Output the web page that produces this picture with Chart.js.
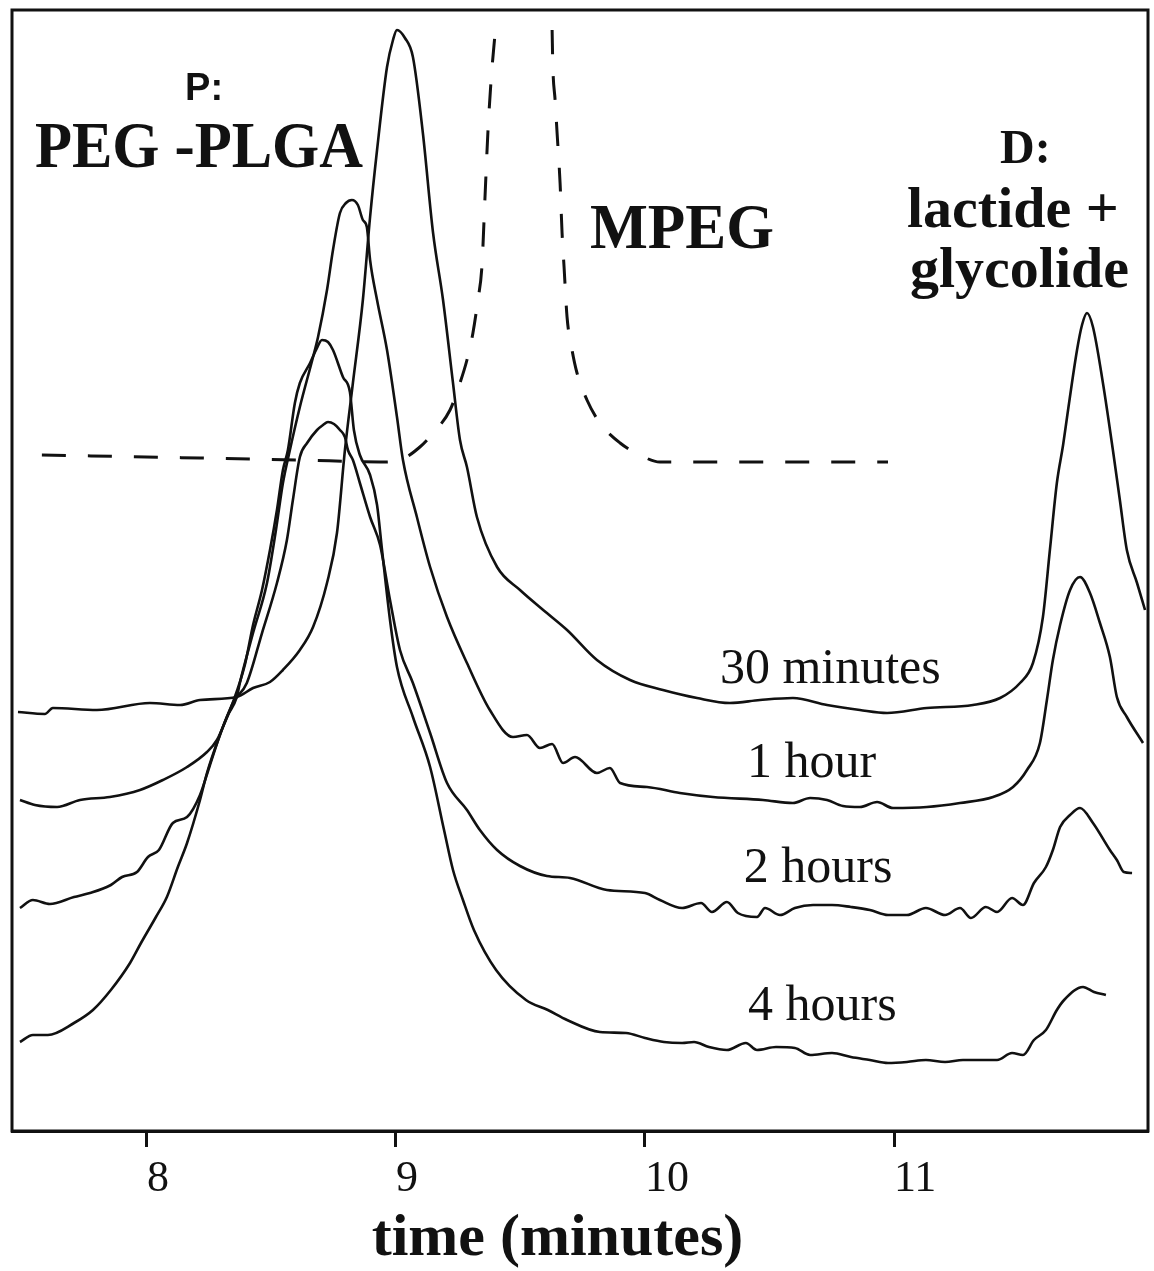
<!DOCTYPE html>
<html>
<head>
<meta charset="utf-8">
<script src="https://cdn.jsdelivr.net/npm/chart.js@4.4.1/dist/chart.umd.min.js"></script>
<style>
  html, body { margin: 0; padding: 0; background: #ffffff; overflow: hidden; }
  #wrap { width: 1154px; height: 1271px; }
</style>
</head>
<body>
<div id="wrap"><canvas id="c" width="1154" height="1271"></canvas></div>
<script>
// ---- x-axis tick values (minutes) ----
const xTickValues = [8, 9, 10, 11];

// ---- 30 minutes ----
const t30 = [7.482, 7.590, 7.622, 7.799, 8.012, 8.133, 8.213, 8.361, 8.426, 8.494, 8.546, 8.614, 8.667, 8.723, 8.763, 8.795, 8.827, 8.867, 8.896, 8.924, 8.964, 8.988, 9.004, 9.036, 9.068, 9.108, 9.149, 9.189, 9.229, 9.257, 9.285, 9.325, 9.406, 9.498, 9.606, 9.687, 9.807, 9.940, 10.072, 10.209, 10.341, 10.462, 10.594, 10.731, 10.863, 10.972, 11.132, 11.317, 11.426, 11.506, 11.558, 11.598, 11.626, 11.654, 11.679, 11.695, 11.735, 11.755, 11.775, 11.799, 11.839, 11.879, 11.907, 11.935, 11.976, 12.008];
const s30 = [41.9, 41.7, 42.3, 42.1, 42.8, 42.6, 43.1, 43.4, 44.3, 44.9, 46.1, 48.1, 50.4, 54.8, 59.8, 68.1, 74.8, 83.1, 91.4, 98.1, 106.4, 109.1, 110.1, 109.3, 107.4, 99.8, 89.8, 83.1, 74.8, 69.1, 66.4, 61.4, 56.4, 54.1, 51.8, 50.1, 47.1, 45.1, 44.1, 43.3, 42.8, 43.1, 43.3, 42.6, 42.1, 41.8, 42.3, 42.6, 43.3, 44.8, 46.8, 51.4, 58.1, 64.8, 68.6, 71.4, 78.1, 80.6, 81.8, 80.4, 74.8, 68.1, 63.1, 58.1, 54.8, 52.1];

// ---- 1 hour ----
const t1h = [7.490, 7.550, 7.639, 7.731, 7.851, 7.972, 8.064, 8.161, 8.241, 8.281, 8.325, 8.361, 8.373, 8.426, 8.482, 8.518, 8.546, 8.574, 8.614, 8.667, 8.687, 8.723, 8.747, 8.775, 8.799, 8.823, 8.847, 8.867, 8.883, 8.896, 8.924, 8.964, 9.004, 9.028, 9.084, 9.137, 9.205, 9.285, 9.377, 9.470, 9.526, 9.578, 9.627, 9.671, 9.719, 9.807, 9.859, 9.900, 10.008, 10.140, 10.273, 10.474, 10.594, 10.663, 10.731, 10.795, 10.863, 10.932, 10.996, 11.132, 11.265, 11.398, 11.478, 11.534, 11.586, 11.614, 11.638, 11.667, 11.707, 11.747, 11.787, 11.827, 11.867, 11.895, 11.935, 12.000];
const s1h = [33.1, 32.6, 32.4, 33.1, 33.4, 34.1, 35.1, 36.4, 37.9, 39.1, 41.6, 43.4, 44.8, 49.8, 54.8, 60.1, 64.8, 68.1, 72.4, 77.4, 79.4, 84.1, 88.1, 91.8, 92.8, 93.1, 92.6, 91.1, 90.4, 87.1, 83.1, 78.1, 71.4, 67.1, 61.4, 56.4, 51.4, 46.8, 42.1, 39.4, 39.6, 38.3, 38.7, 36.8, 37.4, 35.8, 36.3, 34.8, 34.4, 33.8, 33.4, 33.1, 32.8, 33.3, 33.1, 32.5, 32.4, 32.9, 32.3, 32.4, 32.8, 33.4, 34.4, 36.1, 38.8, 43.1, 47.1, 50.6, 54.1, 55.4, 53.8, 50.8, 47.4, 43.4, 41.4, 38.8];

// ---- 2 hours ----
const t2h = [7.490, 7.542, 7.610, 7.707, 7.771, 7.855, 7.900, 7.960, 8.004, 8.048, 8.104, 8.161, 8.213, 8.253, 8.293, 8.345, 8.401, 8.462, 8.522, 8.562, 8.586, 8.614, 8.643, 8.683, 8.707, 8.727, 8.751, 8.775, 8.795, 8.807, 8.827, 8.855, 8.896, 8.936, 8.976, 9.016, 9.068, 9.137, 9.205, 9.285, 9.337, 9.406, 9.498, 9.606, 9.699, 9.847, 10.000, 10.060, 10.149, 10.225, 10.269, 10.329, 10.373, 10.450, 10.482, 10.542, 10.602, 10.675, 10.751, 10.827, 10.903, 10.976, 11.052, 11.128, 11.205, 11.265, 11.309, 11.369, 11.414, 11.474, 11.518, 11.562, 11.610, 11.638, 11.667, 11.707, 11.747, 11.799, 11.867, 11.895, 11.923, 11.956];
const s2h = [22.3, 23.1, 22.7, 23.4, 23.8, 24.6, 25.4, 25.9, 27.4, 28.1, 30.8, 31.4, 33.6, 36.6, 39.6, 42.8, 44.8, 49.8, 54.8, 59.1, 63.1, 67.4, 68.8, 70.1, 70.6, 70.9, 70.7, 70.1, 69.4, 68.1, 67.1, 64.8, 61.4, 58.6, 53.1, 48.1, 44.8, 39.8, 34.8, 32.1, 30.1, 28.1, 26.5, 25.5, 25.3, 24.1, 23.8, 23.1, 22.3, 22.8, 21.9, 22.9, 21.8, 21.4, 22.3, 21.6, 22.3, 22.6, 22.6, 22.4, 22.1, 21.6, 21.6, 22.3, 21.6, 22.3, 21.3, 22.4, 21.9, 23.3, 22.6, 24.8, 26.4, 28.1, 30.4, 31.6, 32.3, 30.8, 28.1, 27.1, 25.9, 25.8];

// ---- 4 hours ----
const t4h = [7.490, 7.542, 7.602, 7.707, 7.783, 7.855, 7.932, 7.976, 8.036, 8.080, 8.124, 8.161, 8.213, 8.241, 8.293, 8.341, 8.393, 8.426, 8.462, 8.494, 8.522, 8.546, 8.566, 8.594, 8.614, 8.655, 8.679, 8.703, 8.727, 8.747, 8.787, 8.815, 8.831, 8.855, 8.896, 8.924, 8.944, 8.976, 9.004, 9.068, 9.137, 9.193, 9.229, 9.269, 9.313, 9.402, 9.522, 9.610, 9.687, 9.819, 9.924, 10.000, 10.076, 10.149, 10.197, 10.257, 10.329, 10.405, 10.450, 10.526, 10.602, 10.663, 10.751, 10.827, 10.903, 10.976, 11.052, 11.128, 11.205, 11.277, 11.353, 11.414, 11.474, 11.518, 11.562, 11.610, 11.654, 11.683, 11.759, 11.803, 11.851];
const s4h = [8.9, 9.6, 9.6, 10.8, 12.1, 14.1, 16.8, 18.8, 21.4, 23.4, 26.4, 28.8, 33.1, 35.8, 39.6, 42.6, 46.6, 50.6, 54.1, 58.1, 62.1, 66.1, 68.1, 72.8, 74.8, 76.8, 78.1, 79.1, 78.9, 78.1, 75.4, 73.9, 70.1, 67.6, 65.6, 62.6, 58.1, 51.1, 46.4, 41.4, 36.4, 30.1, 26.1, 23.1, 20.1, 16.1, 13.1, 12.1, 11.1, 9.9, 9.8, 9.3, 8.9, 8.8, 8.9, 8.4, 8.1, 8.8, 8.1, 8.4, 8.3, 7.6, 7.8, 7.4, 7.1, 6.8, 6.9, 7.1, 6.9, 7.1, 7.1, 7.1, 7.8, 7.6, 9.1, 10.1, 12.1, 13.1, 14.4, 13.9, 13.6];

// ---- MPEG (dashed; peak runs off the top, null = gap) ----
const tMpeg = [7.578, 8.213, 8.614, 8.936, 9.016, 9.096, 9.149, 9.217, 9.257, 9.285, 9.309, 9.329, 9.345, 9.357, 9.369, 9.382, 9.398, 9.51, 9.627, 9.630, 9.639, 9.647, 9.659, 9.667, 9.675, 9.687, 9.707, 9.727, 9.767, 9.819, 9.900, 9.980, 10.060, 10.976];
const sMpeg = [67.6, 67.3, 67.1, 66.9, 67.1, 68.4, 69.8, 72.1, 74.8, 77.1, 79.8, 83.1, 86.4, 93.1, 99.8, 105.1, 109.8, null, 110.1, 106.4, 103.1, 99.8, 94.8, 89.8, 86.4, 81.4, 78.1, 75.8, 73.1, 70.8, 68.8, 67.6, 66.9, 66.9];

// ---- text labels placed in data coordinates ----
const labels = [
  { text: 'P:',         t: 8.153,  v: 103.1, font: 'bold 38px "Liberation Sans"' },
  { text: 'PEG -PLGA',  t: 7.550,  v: 96.4,  font: 'bold 66px "Liberation Serif"', maxWidth: 328 },
  { text: 'MPEG',       t: 9.779,  v: 88.3,  font: 'bold 64px "Liberation Serif"', maxWidth: 184 },
  { text: 'D:',         t: 11.426, v: 96.8,  font: 'bold 48px "Liberation Serif"' },
  { text: 'lactide +',  t: 11.052, v: 90.4,  font: 'bold 58px "Liberation Serif"', maxWidth: 226 },
  { text: 'glycolide',  t: 11.064, v: 84.4,  font: 'bold 58px "Liberation Serif"', maxWidth: 232 },
  { text: '30 minutes', t: 10.301, v: 44.8,  font: '50px "Liberation Serif"', maxWidth: 224 },
  { text: '1 hour',     t: 10.410, v: 35.4,  font: '50px "Liberation Serif"' },
  { text: '2 hours',    t: 10.397, v: 24.9,  font: '50px "Liberation Serif"' },
  { text: '4 hours',    t: 10.414, v: 11.1,  font: '50px "Liberation Serif"' }
];

const toPts = (ts, ss) => ts.map((x, i) => ({ x: x, y: ss[i] }));

const solid = (label, ts, ss) => ({
  label: label,
  data: toPts(ts, ss),
  borderColor: '#111111',
  borderWidth: 2.6,
  pointRadius: 0,
  fill: false,
  cubicInterpolationMode: 'monotone'
});

const frameAndText = {
  id: 'frameAndText',
  afterDatasetsDraw(chart) {
    const { ctx, chartArea: a, scales } = chart;
    ctx.save();
    ctx.strokeStyle = '#111111';
    ctx.lineWidth = 3;
    ctx.strokeRect(a.left, a.top, a.right - a.left, a.bottom - a.top);
    ctx.fillStyle = '#111111';
    ctx.textAlign = 'left';
    ctx.textBaseline = 'alphabetic';
    labels.forEach(l => {
      ctx.font = l.font;
      const x = scales.x.getPixelForValue(l.t);
      const y = scales.y.getPixelForValue(l.v);
      if (l.maxWidth) ctx.fillText(l.text, x, y, l.maxWidth);
      else ctx.fillText(l.text, x, y);
    });
    ctx.restore();
  }
};

new Chart(document.getElementById('c'), {
  type: 'line',
  data: {
    datasets: [
      solid('30 minutes', t30, s30),
      solid('1 hour', t1h, s1h),
      solid('2 hours', t2h, s2h),
      solid('4 hours', t4h, s4h),
      {
        label: 'MPEG',
        data: toPts(tMpeg, sMpeg),
        borderColor: '#111111',
        borderWidth: 3,
        borderDash: [24, 22],
        pointRadius: 0,
        fill: false,
        spanGaps: false,
        cubicInterpolationMode: 'monotone'
      }
    ]
  },
  options: {
    responsive: false,
    animation: false,
    devicePixelRatio: 1,
    layout: { padding: { left: 12, top: 10, right: 6, bottom: 0 } },
    plugins: { legend: { display: false }, tooltip: { enabled: false } },
    scales: {
      x: {
        type: 'linear',
        position: 'bottom',
        min: 7.458,
        max: 12.02,
        afterBuildTicks: (scale) => { scale.ticks = xTickValues.map(v => ({ value: v })); },
        afterFit: (scale) => { scale.height = 140; },
        grid: { display: true, drawOnChartArea: false, drawTicks: true, tickLength: 16, tickWidth: 3, tickColor: '#111111' },
        border: { display: true, color: '#111111', width: 3 },
        ticks: {
          align: 'start',
          padding: 6,
          color: '#111111',
          font: { family: '"Liberation Serif"', size: 44 },
          maxRotation: 0,
          autoSkip: false
        },
        title: {
          display: true,
          text: 'time (minutes)   ',
          color: '#111111',
          font: { family: '"Liberation Serif"', size: 60, weight: 'bold', lineHeight: 1.0 },
          padding: { top: 0, bottom: 2 }
        }
      },
      y: {
        type: 'linear',
        display: false,
        min: 0,
        max: 112.1
      }
    }
  },
  plugins: [frameAndText]
});
</script>
</body>
</html>
